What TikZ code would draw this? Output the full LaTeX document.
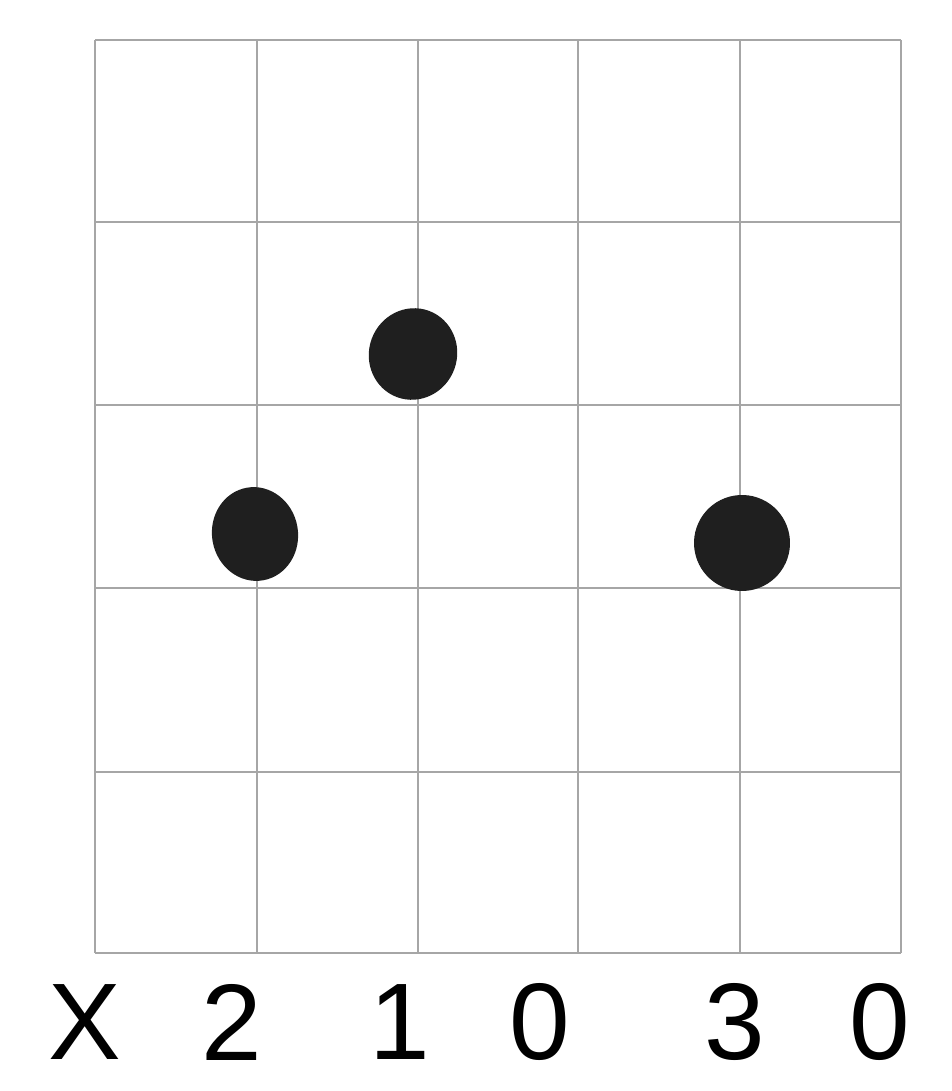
\documentclass[tikz,border=0pt]{standalone}
\usepackage{fontspec}
\setmainfont{Liberation Sans}
\usepackage{tikz}

\begin{document}
\begin{tikzpicture}[x=0.02cm,y=-0.02cm]
\useasboundingbox (0,0) rectangle (951,1091);
% frets and strings
\foreach \y in {40,222,405,588,772,953}
  \draw[gray!70,line width=1.6pt] (95,\y) -- (901,\y);
\foreach \x in {95,257,418,578,740,901}
  \draw[gray!70,line width=1.6pt] (\x,40) -- (\x,953);
% finger dots
\fill[black!88,rotate around={-20:(413,354)}] (413,354) ellipse (44 and 46);
\fill[black!88,rotate around={10:(255,534)}] (255,534) ellipse (43 and 47);
\fill[black!88,rotate around={15:(742,543)}] (742,543) ellipse (48 and 48);
% string marks under the chart
\foreach \x/\lab/\nm in {85/X/sX, 232/2/sA, 400/1/sB, 540/0/sC, 735/3/sD, 880/0/sE}
  \node (\nm) at (\x,1022) {\fontsize{62}{62}\selectfont \lab};
\end{tikzpicture}
\end{document}
